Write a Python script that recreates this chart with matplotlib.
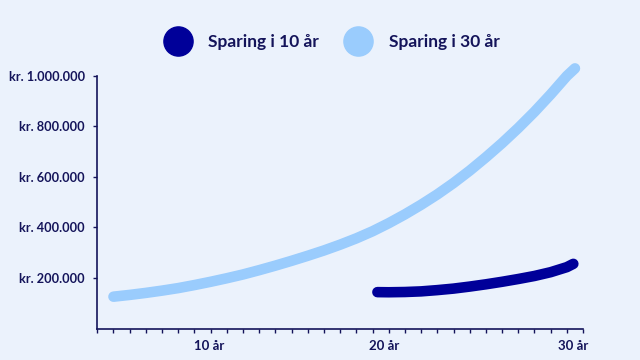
import matplotlib
matplotlib.use("Agg")
import matplotlib.pyplot as plt
from matplotlib.lines import Line2D
from matplotlib.ticker import FuncFormatter, MultipleLocator

plt.rcParams['font.family'] = ['Lato', 'DejaVu Sans']

# data (years, kroner)
years_30 = [1, 2, 3, 4, 5, 6, 7, 8, 9, 10, 11, 12, 13, 14, 15, 16, 17, 18, 19, 20,
            21, 22, 23, 24, 25, 26, 27, 28, 29, 29.5]
saving_30 = [126000, 133000, 141000, 150000, 160000, 172000, 185000, 199000, 214000,
             231000, 249000, 268000, 288000, 309000, 332000, 357000, 385000, 417000,
             452000, 490000, 531000, 576000, 625000, 678000, 734000, 794000, 858000,
             927000, 1000000, 1030000]
years_10 = [17.3, 18, 19, 20, 21, 22, 23, 24, 25, 26, 27, 28, 29, 29.4]
saving_10 = [144000, 143500, 144500, 147000, 152000, 158000, 166000, 175000, 185000,
             196000, 208000, 223000, 243000, 256000]
series_names = ["Sparing i 10 år", "Sparing i 30 år"]
y_ticks = [200000, 400000, 600000, 800000, 1000000]
x_labels = ["10 år", "20 år", "30 år"]
x_label_pos = [6.9, 17.7, 29.4]

BG = "#EBF2FC"
DARK = "#000099"
LIGHT = "#9ACCFD"
TXT = "#14145A"

fig = plt.figure(figsize=(6.4, 3.6), dpi=100, facecolor=BG)
ax = fig.add_axes([0.152, 0.0875, 0.759, 0.7015], facecolor=BG)

ax.plot(years_30, saving_30, color=LIGHT, lw=7.6, solid_capstyle='round',
        solid_joinstyle='round', clip_on=False)
ax.plot(years_10, saving_10, color=DARK, lw=7.6, solid_capstyle='round',
        solid_joinstyle='round', clip_on=False)

ax.set_xlim(0, 30)
ax.set_ylim(0, 1000000)
for s in ['top', 'right']:
    ax.spines[s].set_visible(False)
for s in ['left', 'bottom']:
    ax.spines[s].set_color(TXT)
    ax.spines[s].set_linewidth(1.2)

ax.set_yticks(y_ticks)
ax.yaxis.set_major_formatter(FuncFormatter(lambda v, p: "kr. " + f"{int(v):,}".replace(",", ".")))
ax.tick_params(axis='y', length=3, width=1, color=TXT, labelsize=9.2, labelcolor=TXT, pad=6)
for t in ax.get_yticklabels():
    t.set_fontweight('bold')

ax.xaxis.set_minor_locator(MultipleLocator(1))
ax.set_xticks(x_label_pos)
ax.set_xticklabels(x_labels, fontweight='bold')
ax.tick_params(axis='x', which='major', length=0, labelsize=9.5, labelcolor=TXT, pad=8)
ax.tick_params(axis='x', which='minor', length=3, width=1, color=TXT)

handles = [Line2D([], [], ls='none', marker='o', markersize=21, color=c) for c in (DARK, LIGHT)]
fig.legend(handles, series_names, loc='center', bbox_to_anchor=(0.519, 0.883), ncol=2,
           frameon=False, prop={'size': 12.5, 'weight': 'bold'}, labelcolor=TXT,
           handletextpad=1.0, columnspacing=1.5, handlelength=1.5)

fig.savefig("out.png", dpi=100, facecolor=BG)
